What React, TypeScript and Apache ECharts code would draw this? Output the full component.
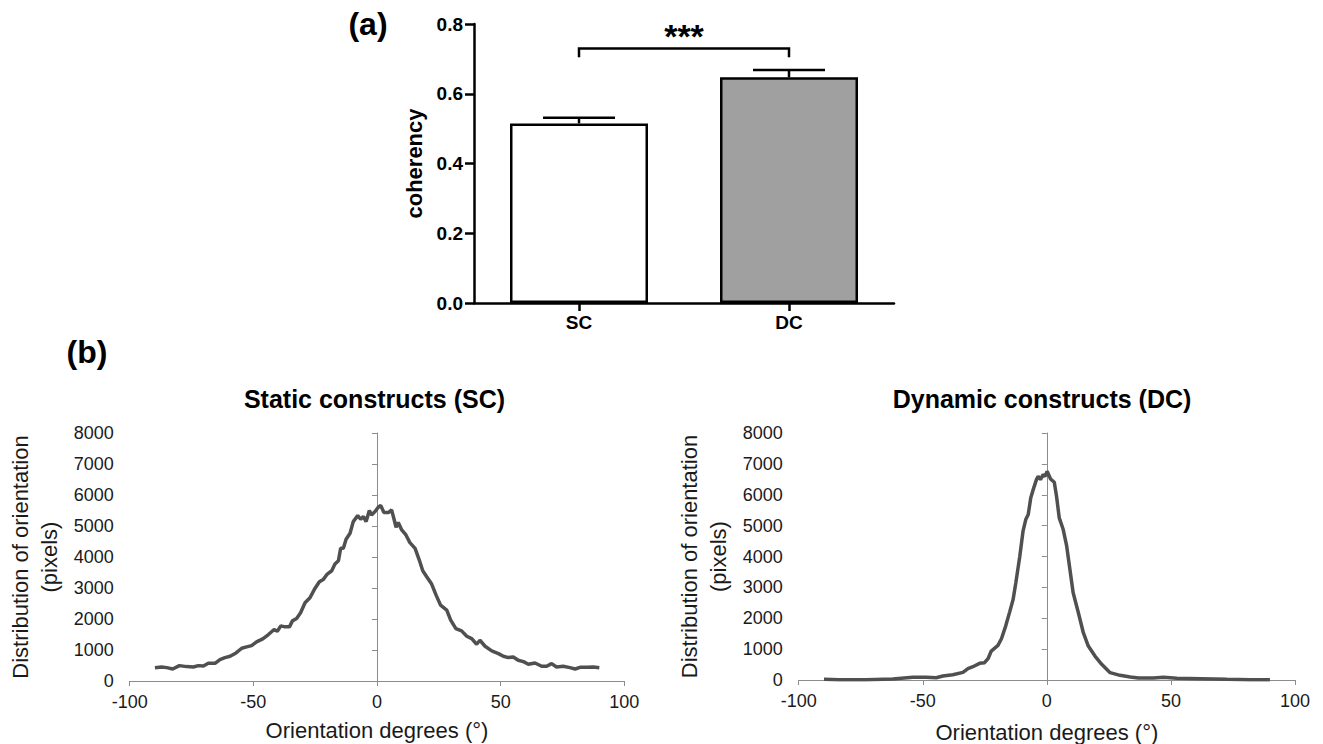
import React, { useEffect, useRef } from "react";
import * as echarts from "echarts";

const FF = '"Liberation Sans", Arial, Helvetica, sans-serif';

// ---- Panel (a) data ----
const categories = ["SC", "DC"];
const coherencyMean = [0.515, 0.647];
const coherencyErr = [0.016, 0.021];
const bracketLevels = [0.705, 0.73]; // leg bottom, bracket top
const significance = "***";
const yTicksA = [0, 0.2, 0.4, 0.6, 0.8];

// ---- Panel (b) data ----
const scAngles = [-89.8, -87.1, -85.0, -82.6, -79.9, -77.0, -74.3, -72.2, -70.2, -68.2, -65.5, -63.5, -61.5, -59.4, -57.0, -54.7, -52.7, -50.7, -48.7, -46.2, -43.9, -41.6, -40.3, -38.9, -37.2, -35.4, -34.2, -32.5, -30.9, -29.1, -27.1, -25.1, -23.3, -21.7, -20.1, -18.3, -17.0, -15.6, -14.7, -13.6, -12.5, -10.9, -9.6, -7.8, -6.6, -5.5, -4.4, -3.1, -2.2, -0.8, 0.5, 1.5, 2.8, 4.6, 5.9, 6.9, 7.7, 8.6, 10.0, 11.7, 13.3, 15.4, 17.1, 18.5, 20.1, 22.1, 23.9, 25.7, 28.2, 29.8, 31.9, 34.2, 36.3, 38.3, 40.3, 41.6, 43.7, 46.4, 49.1, 51.1, 53.1, 55.1, 57.1, 59.2, 61.2, 63.9, 66.6, 68.6, 70.6, 72.6, 75.3, 78.0, 80.1, 82.1, 84.8, 87.5, 89.9];
const scCounts = [431, 453, 431, 388, 496, 464, 453, 496, 485, 571, 571, 690, 755, 798, 906, 1056, 1100, 1143, 1261, 1358, 1498, 1660, 1606, 1779, 1746, 1746, 1940, 2016, 2199, 2522, 2684, 2986, 3202, 3277, 3450, 3557, 3773, 3881, 4280, 4280, 4571, 4765, 5142, 5336, 5217, 5304, 5142, 5498, 5358, 5465, 5606, 5660, 5433, 5433, 5519, 5217, 4959, 5110, 4873, 4711, 4463, 4280, 3902, 3557, 3363, 3126, 2770, 2447, 2285, 1962, 1692, 1617, 1445, 1369, 1186, 1315, 1121, 970, 884, 798, 755, 776, 668, 625, 539, 582, 474, 474, 561, 453, 474, 431, 388, 442, 442, 453, 431];

const dcAngles = [-89.8, -83.7, -72.9, -62.1, -54.0, -48.7, -44.6, -41.9, -37.9, -33.8, -31.8, -29.8, -27.1, -25.1, -23.7, -22.4, -19.7, -18.3, -16.6, -15.0, -13.6, -12.5, -10.9, -9.6, -8.5, -7.5, -6.5, -5.5, -4.2, -3.5, -2.6, -1.5, -0.7, 0.1, 1.5, 3.0, 3.9, 5.0, 6.6, 8.0, 9.3, 10.6, 12.7, 14.7, 16.7, 19.4, 22.1, 25.5, 29.5, 33.6, 36.9, 43.0, 47.0, 52.4, 61.9, 72.6, 82.1, 89.9];
const dcCounts = [22, 10, 11, 32, 86, 86, 75, 129, 172, 248, 367, 431, 539, 561, 690, 938, 1121, 1337, 1746, 2199, 2609, 3148, 4010, 4819, 5196, 5358, 5897, 6166, 6490, 6597, 6490, 6651, 6597, 6759, 6511, 6403, 5951, 5250, 4873, 4334, 3579, 2824, 2178, 1531, 1100, 776, 507, 237, 151, 97, 65, 65, 86, 54, 43, 22, 11, 5];

const xMinB = -100;
const xMaxB = 100;
const xStepB = 50;
const yMaxB = 8000;
const yStepB = 1000;

const titleSC = "Static constructs (SC)";
const titleDC = "Dynamic constructs (DC)";
const xNameB = "Orientation degrees (°)";
const yNameB = "Distribution of orientation\n(pixels)";

// ---- layout ----
const gridA = { left: 474, top: 24, width: 420, height: 279 };
const gridL = { left: 129.7, top: 433, width: 494.6, height: 248 };
const gridR = { left: 798.7, top: 433, width: 496.3, height: 248 };

const AXIS_GRAY = "#8c8c8c";
const LINE_COLOR = "#505050";

function bottomXAxis(gridIndex: number, gap: number) {
  return {
    type: "value",
    gridIndex,
    min: xMinB,
    max: xMaxB,
    interval: xStepB,
    axisLine: { show: true, onZero: false, lineStyle: { color: AXIS_GRAY, width: 1 } },
    axisTick: { show: true, length: 5, lineStyle: { color: AXIS_GRAY } },
    axisLabel: { fontFamily: FF, fontSize: 18, color: "#1a1a1a", margin: 12, formatter: (v: number) => String(v) },
    splitLine: { show: false },
    name: xNameB,
    nameLocation: "middle",
    nameGap: gap,
    nameTextStyle: { fontFamily: FF, fontSize: 22, color: "#1a1a1a" },
  };
}

function bottomYLabelAxis(gridIndex: number) {
  return {
    type: "value",
    gridIndex,
    position: "left",
    min: 0,
    max: yMaxB,
    interval: yStepB,
    axisLine: { show: false },
    axisTick: { show: false },
    axisLabel: { fontFamily: FF, fontSize: 18, color: "#1a1a1a", margin: 16, formatter: (v: number) => String(v) },
    splitLine: { show: false },
    name: yNameB,
    nameLocation: "middle",
    nameGap: 66,
    nameTextStyle: { fontFamily: FF, fontSize: 22, color: "#1a1a1a", lineHeight: 29 },
  };
}

function bottomYZeroAxis(gridIndex: number, width: number) {
  return {
    type: "value",
    gridIndex,
    position: "left",
    offset: -((0 - xMinB) / (xMaxB - xMinB)) * width,
    min: 0,
    max: yMaxB,
    interval: yStepB,
    axisLine: { show: true, onZero: false, lineStyle: { color: AXIS_GRAY, width: 1 } },
    axisTick: { show: true, length: 5, lineStyle: { color: AXIS_GRAY } },
    axisLabel: { show: false },
    splitLine: { show: false },
  };
}

export default function App() {
  const ref = useRef<HTMLDivElement>(null);

  useEffect(() => {
    if (!ref.current) return;
    const chart = echarts.init(ref.current, null, { renderer: "svg" });

    const option: any = {
      animation: false,
      backgroundColor: "#ffffff",
      textStyle: { fontFamily: FF },
      grid: [
        { ...gridA, containLabel: false },
        { ...gridL, containLabel: false },
        { ...gridR, containLabel: false },
      ],
      xAxis: [
        {
          type: "category",
          gridIndex: 0,
          data: categories,
          axisLine: { show: true, lineStyle: { color: "#000", width: 2.5 } },
          axisTick: { show: true, alignWithLabel: true, length: 8, lineStyle: { color: "#000", width: 2.5 } },
          axisLabel: { fontFamily: FF, fontSize: 19, fontWeight: "bold", color: "#000", margin: 10 },
        },
        bottomXAxis(1, 38),
        bottomXAxis(2, 41),
      ],
      yAxis: [
        {
          type: "value",
          gridIndex: 0,
          min: yTicksA[0],
          max: yTicksA[yTicksA.length - 1],
          interval: yTicksA[1] - yTicksA[0],
          axisLine: { show: true, lineStyle: { color: "#000", width: 2.5 } },
          axisTick: { show: true, length: 9, lineStyle: { color: "#000", width: 2.5 } },
          axisLabel: {
            fontFamily: FF,
            fontSize: 19,
            fontWeight: "bold",
            color: "#000",
            margin: 11,
            formatter: (v: number) => v.toFixed(1),
          },
          splitLine: { show: false },
          name: "coherency",
          nameLocation: "middle",
          nameGap: 49,
          nameTextStyle: { fontFamily: FF, fontSize: 22, fontWeight: "bold", color: "#000" },
        },
        bottomYLabelAxis(1),
        bottomYLabelAxis(2),
        bottomYZeroAxis(1, gridL.width),
        bottomYZeroAxis(2, gridR.width),
      ],
      graphic: [
        {
          type: "text",
          x: 368,
          y: 24,
          style: { text: "(a)", fontFamily: FF, fontSize: 32, fontWeight: "bold", fill: "#000", align: "center", verticalAlign: "middle" },
        },
        {
          type: "text",
          x: 87,
          y: 352,
          style: { text: "(b)", fontFamily: FF, fontSize: 32, fontWeight: "bold", fill: "#000", align: "center", verticalAlign: "middle" },
        },
        {
          type: "text",
          x: 374.5,
          y: 399,
          style: { text: titleSC, fontFamily: FF, fontSize: 25, fontWeight: "bold", fill: "#000", align: "center", verticalAlign: "middle" },
        },
        {
          type: "text",
          x: 1042,
          y: 399,
          style: { text: titleDC, fontFamily: FF, fontSize: 25, fontWeight: "bold", fill: "#000", align: "center", verticalAlign: "middle" },
        },
      ],
      series: [
        {
          type: "bar",
          xAxisIndex: 0,
          yAxisIndex: 0,
          barWidth: 138,
          data: coherencyMean.map((v, i) => ({
            value: v,
            itemStyle: {
              color: i === 0 ? "#ffffff" : "#a0a0a0",
              borderColor: "#000",
              borderWidth: 2.5,
            },
          })),
          z: 2,
        },
        {
          type: "custom",
          xAxisIndex: 0,
          yAxisIndex: 0,
          z: 3,
          data: coherencyMean.map((v, i) => [i, v, v + coherencyErr[i]]),
          renderItem: (params: any, api: any) => {
            const idx = api.value(0);
            const b = api.coord([idx, api.value(1)]);
            const t = api.coord([idx, api.value(2)]);
            const half = 36;
            return {
              type: "group",
              children: [
                { type: "line", shape: { x1: b[0], y1: b[1], x2: t[0], y2: t[1] }, style: { stroke: "#000", lineWidth: 2.5 } },
                { type: "line", shape: { x1: t[0] - half, y1: t[1], x2: t[0] + half, y2: t[1] }, style: { stroke: "#000", lineWidth: 2.5 } },
              ],
            };
          },
        },
        {
          type: "custom",
          xAxisIndex: 0,
          yAxisIndex: 0,
          z: 3,
          data: [[0, 1, bracketLevels[0], bracketLevels[1]]],
          renderItem: (params: any, api: any) => {
            const a = api.value(0);
            const c = api.value(1);
            const p0 = api.coord([a, api.value(2)]);
            const p1 = api.coord([a, api.value(3)]);
            const p2 = api.coord([c, api.value(3)]);
            const p3 = api.coord([c, api.value(2)]);
            return {
              type: "group",
              children: [
                {
                  type: "polyline",
                  shape: { points: [p0, p1, p2, p3] },
                  style: { stroke: "#000", lineWidth: 2.5, fill: "none" },
                },
                {
                  type: "text",
                  x: (p1[0] + p2[0]) / 2,
                  y: p1[1] - 12,
                  style: {
                    text: significance,
                    fontFamily: FF,
                    fontSize: 34,
                    fontWeight: "bold",
                    fill: "#000",
                    align: "center",
                    verticalAlign: "middle",
                  },
                },
              ],
            };
          },
        },
        {
          type: "line",
          xAxisIndex: 1,
          yAxisIndex: 1,
          showSymbol: false,
          symbol: "none",
          data: scAngles.map((a, i) => [a, scCounts[i]]),
          lineStyle: { color: LINE_COLOR, width: 3.5 },
          z: 3,
        },
        {
          type: "line",
          xAxisIndex: 2,
          yAxisIndex: 2,
          showSymbol: false,
          symbol: "none",
          data: dcAngles.map((a, i) => [a, dcCounts[i]]),
          lineStyle: { color: LINE_COLOR, width: 3.5 },
          z: 3,
        },
      ],
    };

    chart.setOption(option);
    return () => chart.dispose();
  }, []);

  return (
    <div
      ref={ref}
      style={{ position: "absolute", left: 0, top: 0, width: 1323, height: 744, background: "#fff" }}
    />
  );
}
